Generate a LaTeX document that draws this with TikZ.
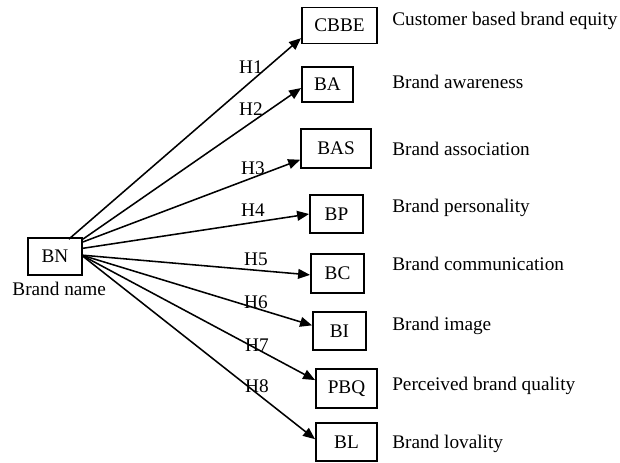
\documentclass[tikz,border=0pt]{standalone}
\usepackage{fontspec}
\setmainfont{Liberation Serif}
\usetikzlibrary{shapes,arrows,arrows.meta,positioning}
\tikzstyle{box} = [rectangle, draw, line width=1.2pt, minimum height=0.95cm, inner sep=0pt]
\tikzstyle{desc} = [anchor=base west, inner sep=0pt]
\tikzstyle{hlab} = [inner sep=0pt]
\tikzstyle{line} = [draw, line width=1.1pt, -{Triangle[length=8.5pt,width=7pt]}]

\begin{document}
\begin{tikzpicture}[x=0.025cm, y=-0.025cm, font=\fontsize{13.7}{16}\selectfont]
				\useasboundingbox (0,0) rectangle (620,462);
				\node [box, minimum width=1.35cm, minimum height=0.93cm, label={[name=bnl, xshift=3pt, label distance=1pt]below:Brand name}] (bn) at (55,256.5) {BN};
				\node [box, minimum width=1.88cm, minimum height=0.9cm] (cbbe) at (339.5,25.5) {CBBE};
				\node [box, minimum width=1.28cm, minimum height=0.88cm] (ba) at (327.5,84.5) {BA};
				\node [box, minimum width=1.75cm, minimum height=0.98cm] (bas) at (336,148.5) {BAS};
				\node [box, minimum width=1.33cm] (bp) at (336.5,214) {BP};
				\node [box, minimum width=1.33cm, minimum height=0.98cm] (bc) at (337.5,273.5) {BC};
				\node [box, minimum width=1.33cm] (bi) at (339.5,331) {BI};
				\node [box, minimum width=1.53cm, minimum height=0.98cm] (pbq) at (346.5,388.5) {PBQ};
				\node [box, minimum width=1.53cm] (bl) at (346.5,442) {BL};

				\node [desc] (dcbbe) at (392,25) {Customer based brand equity};
				\node [desc] (dba) at (392,88) {Brand awareness};
				\node [desc] (dbas) at (392,155) {Brand association};
				\node [desc] (dbp) at (392,212) {Brand personality};
				\node [desc] (dbc) at (392,270) {Brand communication};
				\node [desc] (dbi) at (392,330) {Brand image};
				\node [desc] (dpbq) at (392,390) {Perceived brand quality};
				\node [desc] (dbl) at (392,448) {Brand lovality};

				\node [hlab] (h1) at (251,67) {H1};
				\node [hlab] (h2) at (251,109) {H2};
				\node [hlab] (h3) at (253,168) {H3};
				\node [hlab] (h4) at (253,210) {H4};
				\node [hlab] (h5) at (256,259) {H5};
				\node [hlab] (h6) at (256,302) {H6};
				\node [hlab] (h7) at (257,345) {H7};
				\node [hlab] (h8) at (257,386) {H8};

				\path [line] ([xshift=-10pt,yshift=-1.5pt]bn.north east) -- ([yshift=-9pt]cbbe.west);
				\path [line] ([yshift=-1.5pt]bn.north east) -- ([yshift=-2.5pt]ba.west);
				\path [line] ([yshift=-3.5pt]bn.north east) -- ([yshift=-8pt]bas.west);
				\path [line] ([yshift=-8pt]bn.north east) -- (bp.west);
				\path [line] ([xshift=-1pt,yshift=1pt]bn.east) -- ([yshift=-1pt]bc.west);
				\path [line] ([xshift=-1pt,yshift=1pt]bn.east) -- ([yshift=4pt]bi.west);
				\path [line] ([xshift=-1pt,yshift=1pt]bn.east) -- ([yshift=6pt]pbq.west);
				\path [line] ([xshift=-1pt,yshift=1pt]bn.east) -- ([yshift=2pt]bl.west);
			\end{tikzpicture}
\end{document}
